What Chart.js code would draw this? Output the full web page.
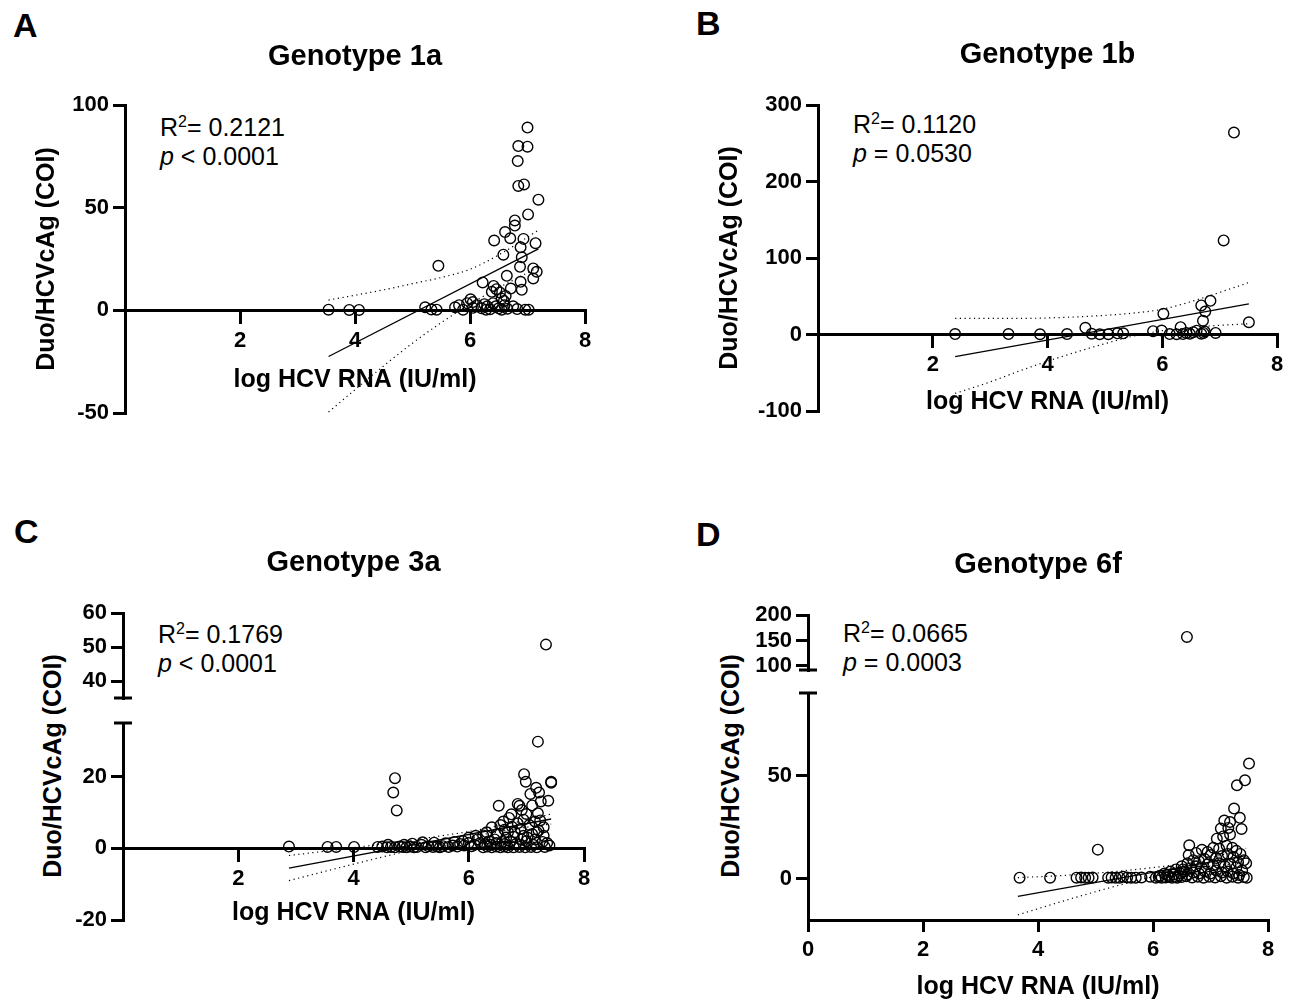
<!DOCTYPE html>
<html>
<head>
<meta charset="utf-8">
<script src="https://cdn.jsdelivr.net/npm/chart.js@4.4.1/dist/chart.umd.min.js"></script>
<style>
  body{margin:0;background:#fff;}
  #fig{position:relative;width:1297px;height:999px;overflow:hidden;font-family:"Liberation Sans",Arial,sans-serif;color:#000;}
  canvas{position:absolute;}
  .lbl{position:absolute;font-weight:bold;font-size:34px;line-height:34px;}
  .stat{position:absolute;font-size:25px;line-height:29px;white-space:nowrap;}
  .stat sup{font-size:16px;line-height:0;vertical-align:9px;}
  .ytitle{position:absolute;font-weight:bold;font-size:25px;line-height:30px;white-space:nowrap;transform:translate(-50%,-50%) rotate(-90deg);}
</style>
</head>
<body>
<div id="fig">
  <div class="lbl" style="left:13px;top:8px">A</div>
  <div class="lbl" style="left:696px;top:6px">B</div>
  <div class="lbl" style="left:14px;top:514px">C</div>
  <div class="lbl" style="left:696px;top:517px">D</div>

  <div class="stat" style="left:160px;top:113px">R<sup>2</sup>= 0.2121<br><i>p</i> &lt; 0.0001</div>
  <div class="stat" style="left:853px;top:110px">R<sup>2</sup>= 0.1120<br><i>p</i> = 0.0530</div>
  <div class="stat" style="left:158px;top:620px">R<sup>2</sup>= 0.1769<br><i>p</i> &lt; 0.0001</div>
  <div class="stat" style="left:843px;top:619px">R<sup>2</sup>= 0.0665<br><i>p</i> = 0.0003</div>

  <div class="ytitle" style="left:52px;top:766px">Duo/HCVcAg (COI)</div>
  <div class="ytitle" style="left:730px;top:766px">Duo/HCVcAg (COI)</div>

  <canvas id="cA"></canvas>
  <canvas id="cB"></canvas>
  <canvas id="cCtop"></canvas>
  <canvas id="cC"></canvas>
  <canvas id="cDtop"></canvas>
  <canvas id="cD"></canvas>
</div>

<script>
// ---- data ----
const xTicks = [0, 2, 4, 6, 8];
const aYTicks = [-50, 0, 50, 100];
const bYTicks = [-100, 0, 100, 200, 300];
const cTopTicks = [40, 50, 60];
const cYTicks = [-20, 0, 20];
const dTopTicks = [100, 150, 200];
const dYTicks = [0, 50];

// Genotype 1a
const aPoints = [
  [7.00,89],[6.84,80],[7.00,79.7],[6.83,72.7],[6.84,60.6],[6.94,61.3],[7.19,53.9],[7.01,46.7],
  [6.78,43.8],[6.78,41.3],[6.61,38.1],[6.70,35.1],[6.42,34.0],[6.93,34.8],[7.14,32.7],[6.88,30.7],
  [6.58,27.1],[6.90,25.8],[5.45,21.7],[6.87,21.2],[7.10,20.4],[7.16,18.8],[7.10,15.5],[6.64,16.8],
  [6.22,13.6],[6.88,13.9],[6.41,11.9],[6.38,9.0],[6.46,10.3],[6.52,8.7],[6.71,10.6],[6.90,10.0],
  [6.55,5.7],[6.59,4.6],[6.01,5.4],[6.62,7.0],[6.40,3.5],
  [3.54,0.3],[3.90,0.2],[4.07,0.2],[5.22,1.5],[5.33,0.4],[5.42,0.3],[5.74,1.5],[5.81,2.5],[5.88,0.3],
  [5.95,3.5],[6.05,4.0],[6.12,2.5],[6.20,1.0],[6.25,3.0],[6.30,2.0],[6.35,0.5],[6.45,2.0],[6.50,1.0],
  [6.60,2.5],[6.65,0.8],[6.75,2.0],[6.82,0.6],[6.96,0.3],[7.02,0.3],[6.28,0.3],[6.55,0.3],[6.05,1.2]
];
const aFit = [[3.54,-22.5],[7.19,29.9]];
const aUpper = [[3.54,5],[4.5,10],[5.0,13],[5.5,16],[6.0,20],[6.5,27],[7.19,39]];
const aLower = [[3.54,-49.5],[4.5,-27],[5.0,-16],[5.5,-6],[6.0,3],[6.5,11],[7.19,21]];

// Genotype 1b
const bPoints = [
  [7.25,264],[7.07,123],[7.51,16],[6.84,44],[6.68,38],[6.75,30],[6.71,18],[6.02,27],[6.32,9.6],
  [4.66,8.7],[5.84,4.3],[5.99,5.2],[2.39,0.5],[3.32,0.5],[3.87,0.3],[4.34,0.5],[4.77,1],[4.91,0.3],
  [5.06,0.3],[5.22,1.5],[5.32,1.5],[6.13,0.5],[6.25,0.3],[6.36,0.5],[6.42,2],[6.48,1],[6.54,3],
  [6.60,5],[6.68,1],[6.72,2],[6.74,4],[6.93,2]
];
const bFit = [[2.39,-29],[7.51,40]];
const bUpper = [[2.39,21],[3.5,21],[4.5,23],[5.0,25],[5.5,28],[6.0,33],[6.5,43],[7.0,55],[7.51,68]];
const bLower = [[2.39,-77],[3.0,-62],[3.5,-48],[4.0,-35],[4.5,-23],[5.0,-12],[5.5,-2],[6.0,5],[6.5,9],[7.0,12],[7.51,14]];

// Genotype 3a
const cTopPoints = [[7.34,50.7]];
const cPoints = [
  [7.20,29.8],[4.72,19.6],[4.69,15.6],[4.75,10.6],[6.96,20.7],[6.99,18.6],[7.43,18.6],[7.43,18.3],
  [7.17,16.9],[7.07,15.2],[7.22,15.6],[7.38,13.3],[7.25,13.1],[6.85,12.4],[6.88,11.9],[6.52,11.9],
  [7.20,9.8],[6.92,10.7],[7.00,9.6],[7.24,7.8],[7.30,5.9],[7.21,5.0],[6.40,5.9],[6.31,4.5],[6.25,3.6],
  [6.60,7.5],[6.55,6.5],[6.70,8.5],[6.75,6.0],[6.80,4.5],[6.85,7.0],[6.90,5.5],[6.95,3.5],[7.05,6.5],
  [7.10,4.0],[7.15,2.5],[6.65,3.0],[6.45,2.5],[6.50,4.0],[6.58,1.8],[6.72,2.0],[6.82,1.2],[7.00,2.0],
  [7.12,1.0],[7.28,1.8],[7.36,1.5],[7.40,0.8],[6.35,2.0],[6.20,1.5],[6.15,2.5],[6.10,1.0],[6.05,0.6],
  [6.00,1.5],[5.92,0.8],[5.85,1.2],[5.80,0.5],[5.72,0.8],[5.65,0.4],[5.55,0.6],[5.50,0.3],[5.45,0.5],
  [5.38,0.4],[5.30,0.6],[5.25,0.3],[5.18,1.0],[5.10,0.4],[5.05,0.3],[4.98,0.5],[4.92,0.3],[4.85,0.4],
  [4.80,0.5],[4.72,0.3],[4.65,0.4],[4.58,0.3],[4.50,0.5],[4.42,0.4],[4.01,0.4],[3.70,0.4],[3.55,0.4],
  [2.88,0.5],[6.25,0.3],[6.32,0.5],[6.40,0.3],[6.48,0.5],[6.55,0.3],[6.62,0.5],[6.68,0.3],[6.78,0.3],
  [6.88,0.4],[6.98,0.3],[7.08,0.4],[7.18,0.3],[7.32,0.4],[6.28,1.2],[6.38,1.0],[6.48,1.5],[6.62,1.2],
  [6.68,4.5],[6.78,3.2],[6.92,2.5],[7.02,3.0],[7.18,4.5],[7.30,3.5],[6.95,8.0],[7.15,7.5],[7.10,12.0],
  [6.74,9.5],[6.62,5.2],[5.40,1.6],[5.60,1.4],[5.90,2.0],[6.00,3.0],[6.12,3.5],[5.75,1.8],[5.20,1.7],
  [5.02,1.3],[4.88,1.0],[4.60,1.0]
];
const cFit = [[2.88,-5.5],[7.43,8.2]];
const cUpper = [[2.88,-2.0],[4,0.2],[5,2.3],[6,4.7],[6.5,6.2],[7,7.9],[7.43,9.6]];
const cLower = [[2.88,-9.0],[4,-4.4],[5,-0.5],[6,3.1],[6.5,4.6],[7,5.9],[7.43,6.8]];

// Genotype 6f
const dTopPoints = [[6.59,157]];
const dPoints = [
  [7.67,55.8],[7.60,47.7],[7.46,45.3],[7.41,34],[7.24,28.2],[7.34,27.5],[7.51,29.5],[7.54,24.1],
  [7.18,24.3],[7.31,24.6],[7.34,21.4],[7.11,19.4],[7.22,20.5],[6.63,16.2],[5.04,14.1],
  [6.62,11.5],[6.75,12.5],[6.85,14.0],[6.95,13.0],[7.05,15.0],[7.15,14.5],[7.28,16.0],[7.38,15.0],
  [7.45,13.5],[7.52,12.0],[7.58,9.0],[7.48,8.0],[7.62,7.5],[7.40,10.5],[7.30,12.0],[7.20,11.0],
  [7.10,10.0],[7.00,11.5],[6.90,9.5],[6.80,8.5],[6.70,9.0],[6.60,7.5],[6.50,6.0],[6.40,4.5],[6.30,3.5],
  [6.20,2.5],[6.55,3.5],[6.65,5.0],[6.75,6.0],[6.85,5.5],[6.95,7.0],[7.05,6.5],[7.15,7.5],[7.25,6.0],
  [7.35,7.0],[7.45,5.5],[7.55,4.0],[6.60,2.0],[6.70,3.0],[6.80,2.5],[6.90,3.5],[7.00,2.5],[7.10,4.0],
  [7.20,3.0],[7.30,3.5],[7.40,2.5],[7.50,1.8],[6.45,1.5],[6.50,0.8],[6.58,1.2],[6.68,0.6],[6.78,1.0],
  [6.88,0.5],[6.98,1.0],[7.08,0.6],[7.18,1.2],[7.28,0.5],[7.38,1.0],[7.48,0.5],[7.58,0.8],[7.63,0.5],
  [3.68,0.5],[4.21,0.5],[4.67,0.5],[4.75,0.6],[4.82,0.5],[4.88,0.5],[4.95,0.6],[5.22,0.5],[5.28,0.6],
  [5.35,0.5],[5.42,0.5],[5.55,0.6],[5.62,0.5],[5.70,0.5],[5.80,0.6],[6.05,0.5],[6.10,0.8],[6.15,0.5],
  [6.22,0.6],[6.28,1.0],[6.33,0.5],[6.38,0.8],[6.42,0.5],[6.48,2.5],[6.52,4.5],[6.36,2.0],[6.25,1.8],
  [6.12,1.5],[5.95,1.0],[5.48,1.0]
];
const dFit = [[3.65,-8.5],[7.62,11.2]];
const dUpper = [[3.65,0.5],[4.5,1.7],[5.0,2.7],[5.5,3.9],[6.0,5.4],[6.5,7.2],[7.0,10.1],[7.62,14.7]];
const dLower = [[3.65,-17.5],[4.5,-10.3],[5.0,-6.3],[5.5,-2.5],[6.0,1.0],[6.5,4.0],[7.0,6.1],[7.62,7.7]];

// ---- drawing ----
Chart.defaults.font.family = '"Liberation Sans", Arial, sans-serif';
Chart.defaults.color = '#000';

const TICK_FONT = {size: 22, weight: 'bold'};
const AXIS_FONT = {size: 25, weight: 'bold'};
const HEAD_FONT = {size: 29, weight: 'bold'};

// short horizontal mark across the y axis where it is broken
const breakMarks = {
  id: 'breakMarks',
  afterDraw(chart, args, opts) {
    if (!opts.edge) return;
    const a = chart.chartArea, ctx = chart.ctx;
    const y = opts.edge === 'top' ? a.top : a.bottom;
    ctx.save();
    ctx.strokeStyle = '#000';
    ctx.lineWidth = 3;
    ctx.beginPath();
    ctx.moveTo(a.left - 9, y);
    ctx.lineTo(a.left + 9, y);
    ctx.stroke();
    ctx.restore();
  }
};

function pts(a){ return a.map(p => ({x: p[0], y: p[1]})); }

function makeSets(points, fit, upper, lower){
  const sets = [{
    data: pts(points), showLine: false, clip: false,
    pointRadius: 5.3, pointBorderWidth: 1.4, pointBorderColor: '#000',
    pointBackgroundColor: 'rgba(0,0,0,0)'
  }];
  if (fit) sets.push({data: pts(fit), showLine: true, borderColor: '#000', borderWidth: 1.3, pointRadius: 0});
  [upper, lower].forEach(band => {
    if (band) sets.push({data: pts(band), showLine: true, borderColor: '#000', borderWidth: 1.2,
      borderDash: [1.2, 3.5], pointRadius: 0, cubicInterpolationMode: 'monotone'});
  });
  return sets;
}

// g: canvas box + plot area (page px), o: axis ranges, ticks and texts
function panel(id, g, o){
  const cv = document.getElementById(id);
  cv.width = g.w; cv.height = g.h;
  cv.style.left = g.x + 'px'; cv.style.top = g.y + 'px';

  const xH = o.xTitleGap ? o.xTitleGap + AXIS_FONT.size * 0.6 : 0;
  const headHalf = HEAD_FONT.size * 0.6;

  const yScale = {
    min: o.yMin, max: o.yMax,
    afterBuildTicks: s => { s.ticks = o.yTicks.map(v => ({value: v})); },
    afterFit: s => { s.width = g.l - g.x; },
    ticks: {font: TICK_FONT, padding: 4, autoSkip: false},
    grid: {drawOnChartArea: false, drawTicks: true, tickLength: 12, lineWidth: 3, color: '#000'},
    border: {display: true, width: 3, color: '#000'},
    title: {display: !!o.yTitleX, text: 'Duo/HCVcAg (COI)', font: AXIS_FONT,
      padding: {top: (o.yTitleX || 0) - g.x - AXIS_FONT.size * 0.6, bottom: 0}}
  };
  const xScale = {
    type: 'linear', min: 0, max: 8, display: !!o.xTitleGap,
    position: o.xAtZero ? {y: 0} : 'bottom',
    afterBuildTicks: s => { s.ticks = xTicks.map(v => ({value: v})); },
    afterFit: s => { s.height = xH; },
    ticks: {font: TICK_FONT, padding: o.xPad || 5, autoSkip: false,
      callback: v => (v === 0 && !o.showZero) ? '' : v},
    grid: {drawOnChartArea: false, drawTicks: true, tickLength: 12, lineWidth: 3, color: '#000'},
    border: {display: true, width: 3, color: '#000'},
    title: {display: true, text: 'log HCV RNA (IU/ml)', font: AXIS_FONT, padding: {top: 0, bottom: 0}}
  };

  return new Chart(cv, {
    type: 'scatter',
    data: {datasets: makeSets(o.points, o.fit, o.upper, o.lower)},
    plugins: [breakMarks],
    options: {
      responsive: false, animation: false, events: [],
      layout: {padding: {
        left: 0,
        top: o.title ? 0 : g.t - g.y,
        right: g.x + g.w - g.r,
        bottom: g.y + g.h - g.b - (o.xAtZero ? 0 : xH)
      }},
      scales: {x: xScale, y: yScale},
      plugins: {
        legend: {display: false},
        tooltip: {enabled: false},
        breakMarks: {edge: o.breakEdge || null},
        title: {
          display: !!o.title, text: o.title || '', font: HEAD_FONT, fullSize: false, color: '#000',
          padding: {top: (o.titleY || 0) - g.y - headHalf, bottom: g.t - (o.titleY || 0) - headHalf}
        }
      }
    }
  });
}

panel('cA', {x: 0, y: 0, w: 640, h: 500, l: 125, t: 105, r: 585, b: 413}, {
  yMin: -50, yMax: 100, yTicks: aYTicks, xAtZero: true, xTitleGap: 69.7,
  title: 'Genotype 1a', titleY: 57, yTitleX: 47,
  points: aPoints, fit: aFit, upper: aUpper, lower: aLower
});

panel('cB', {x: 650, y: 0, w: 647, h: 500, l: 818, t: 105, r: 1277, b: 411}, {
  yMin: -100, yMax: 300, yTicks: bYTicks, xAtZero: true, xTitleGap: 67.5,
  title: 'Genotype 1b', titleY: 55, yTitleX: 730,
  points: bPoints, fit: bFit, upper: bUpper, lower: bLower
});

panel('cCtop', {x: 0, y: 500, w: 640, h: 226, l: 123, t: 613, r: 584, b: 698}, {
  yMin: 35, yMax: 60, yTicks: cTopTicks, title: 'Genotype 3a', titleY: 563,
  breakEdge: 'bottom', points: cTopPoints
});

panel('cC', {x: 0, y: 694, w: 640, h: 306, l: 123, t: 723, r: 584, b: 920}, {
  yMin: -20, yMax: 35, yTicks: cYTicks, xAtZero: true, xTitleGap: 64.6,
  breakEdge: 'top', points: cPoints, fit: cFit, upper: cUpper, lower: cLower
});

panel('cDtop', {x: 650, y: 500, w: 647, h: 198, l: 808, t: 615, r: 1268, b: 670}, {
  yMin: 92, yMax: 200, yTicks: dTopTicks, title: 'Genotype 6f', titleY: 565,
  breakEdge: 'bottom', points: dTopPoints
});

panel('cD', {x: 650, y: 664, w: 647, h: 346, l: 808, t: 693, r: 1268, b: 920}, {
  yMin: -20, yMax: 90, yTicks: dYTicks, xTitleGap: 67, showZero: true,
  breakEdge: 'top', points: dPoints, fit: dFit, upper: dUpper, lower: dLower
});
</script>
</body>
</html>
